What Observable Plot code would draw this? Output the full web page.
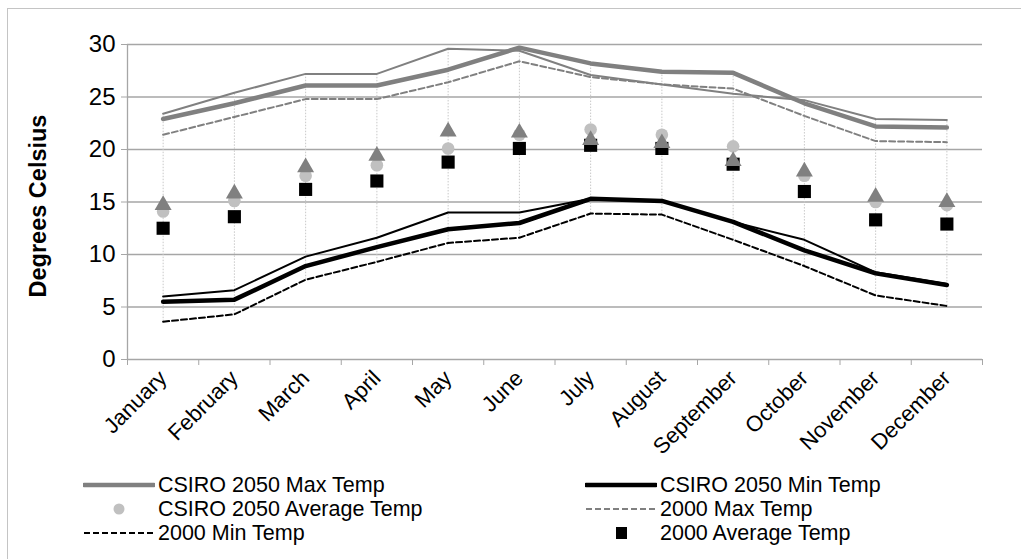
<!DOCTYPE html>
<html>
<head>
<meta charset="utf-8">
<script src="https://cdn.jsdelivr.net/npm/d3@7"></script>
<script src="https://cdn.jsdelivr.net/npm/@observablehq/plot@0.6"></script>
<style>
  body { margin: 0; background: #fff; font-family: "Liberation Sans", Arial, sans-serif; }
  #wrap { position: relative; width: 1021px; height: 559px; overflow: hidden; background: #fff; }
  #frame { position: absolute; left: 7px; top: 8px; width: 1200px; height: 700px;
           border-left: 1.5px solid #c4c4c4; border-top: 1.5px solid #c4c4c4; }
  #chart { position: absolute; left: 0; top: 0; }
  .item { position: absolute; height: 26px; display: flex; align-items: center;
          font-size: 21.5px; color: #000; white-space: nowrap; }
  .item svg { display: block; margin-right: 3px; }
</style>
</head>
<body>
<div id="wrap">
  <div id="frame"></div>
  <div id="chart"></div>
  <div id="legend"></div>
</div>
<script>
const months = ["January","February","March","April","May","June","July","August","September","October","November","December"];
const yTicks = [0, 5, 10, 15, 20, 25, 30];

// Legend series
const csiro2050Max = [22.9, 24.4, 26.1, 26.1, 27.6, 29.7, 28.2, 27.4, 27.3, 24.4, 22.2, 22.1];
const csiro2050Min = [5.5, 5.7, 8.9, 10.7, 12.4, 13.0, 15.3, 15.1, 13.1, 10.4, 8.2, 7.1];
const csiro2050Avg = [14.1, 15.1, 17.5, 18.5, 20.1, 21.4, 21.9, 21.4, 20.3, 17.5, 15.0, 14.7];
const max2000 = [21.4, 23.1, 24.8, 24.8, 26.4, 28.4, 26.9, 26.2, 25.8, 23.2, 20.8, 20.7];
const min2000 = [3.6, 4.3, 7.6, 9.3, 11.1, 11.6, 13.9, 13.8, 11.4, 8.9, 6.1, 5.1];
const avg2000 = [12.5, 13.6, 16.2, 17.0, 18.8, 20.1, 20.4, 20.1, 18.6, 16.0, 13.3, 12.9];
// Unlabelled series drawn in the chart
const otherMax = [23.4, 25.4, 27.2, 27.2, 29.6, 29.4, 27.1, 26.2, 25.3, 24.7, 22.9, 22.8];
const otherMin = [6.0, 6.6, 9.8, 11.6, 14.0, 14.0, 15.3, 15.1, 13.1, 11.4, 8.3, 7.2];
const otherAvg = [14.7, 15.8, 18.3, 19.4, 21.7, 21.6, 20.9, 20.6, 18.9, 17.9, 15.5, 15.0];

const rows = arr => arr.map((v, i) => ({i, v}));
const idx = months.map((m, i) => ({i, m}));
const bounds = d3.range(-0.5, 12, 1);
const lineSeries = [csiro2050Max, csiro2050Min, max2000, min2000, otherMax, otherMin];
const hiLo = months.map((m, i) => ({
  i,
  lo: d3.min(lineSeries, s => s[i]),
  hi: d3.max(lineSeries, s => s[i])
}));

const GRID = "#a6a6a6";
const font = "Liberation Sans, Arial, sans-serif";

const chart = Plot.plot({
  width: 1021,
  height: 470,
  marginLeft: 127,
  marginRight: 39,
  marginTop: 44,
  marginBottom: 111,
  style: { fontFamily: font, background: "transparent", color: "#000" },
  x: { type: "linear", domain: [-0.5, 11.5], axis: null },
  y: { domain: [0, 30], axis: null },
  marks: [
    Plot.gridY(yTicks, { stroke: GRID, strokeOpacity: 1, strokeWidth: 1.3 }),
    Plot.ruleX([-0.5], { stroke: GRID, strokeWidth: 1.3 }),
    Plot.axisY({ ticks: yTicks, label: null, tickSize: 6, tickPadding: 6, stroke: GRID, strokeOpacity: 1, fontSize: 24, fill: "#000" }),
    Plot.axisX({ ticks: bounds, label: null, tickSize: 6, tickFormat: () => "", stroke: GRID, strokeOpacity: 1 }),
    Plot.text(idx, { x: "i", text: "m", frameAnchor: "bottom", dy: 20, dx: 5, rotate: -45, textAnchor: "end", fontSize: 22, fill: "#000" }),
    Plot.text(["Degrees Celsius"], { frameAnchor: "left", textAnchor: "middle", dx: -89, dy: 4, rotate: -90, fontSize: 23.5, fontWeight: "bold", fill: "#000" }),
    // high-low drop lines
    Plot.ruleX(hiLo, { x: "i", y1: "lo", y2: "hi", stroke: "#c8c8c8", strokeWidth: 1, strokeDasharray: "1.5,1.5" }),
    // lines
    Plot.line(rows(max2000), { x: "i", y: "v", stroke: "#808080", strokeWidth: 2, strokeDasharray: "6,3" }),
    Plot.line(rows(min2000), { x: "i", y: "v", stroke: "#000", strokeWidth: 2, strokeDasharray: "6,3" }),
    Plot.line(rows(otherMax), { x: "i", y: "v", stroke: "#808080", strokeWidth: 2 }),
    Plot.line(rows(otherMin), { x: "i", y: "v", stroke: "#000", strokeWidth: 2 }),
    Plot.line(rows(csiro2050Max), { x: "i", y: "v", stroke: "#808080", strokeWidth: 4.5 }),
    Plot.line(rows(csiro2050Min), { x: "i", y: "v", stroke: "#000", strokeWidth: 4.5 }),
    // markers
    Plot.dot(rows(avg2000), { x: "i", y: "v", symbol: "square", r: 7.4, fill: "#000", stroke: "none" }),
    Plot.dot(rows(csiro2050Avg), { x: "i", y: "v", symbol: "circle", r: 6.3, fill: "#c0c0c0", stroke: "none" }),
    Plot.dot(rows(otherAvg), { x: "i", y: "v", symbol: "triangle", r: 6.3, fill: "#808080", stroke: "none" })
  ]
});
document.getElementById("chart").appendChild(chart);

// Legend (HTML, below the SVG plot area)
const legendItems = [
  { label: "CSIRO 2050 Max Temp", kind: "line", color: "#808080", width: 4.5, dash: null, left: 83, top: 472 },
  { label: "CSIRO 2050 Min Temp", kind: "line", color: "#000", width: 4.5, dash: null, left: 585, top: 472 },
  { label: "CSIRO 2050 Average Temp", kind: "circle", color: "#c0c0c0", left: 83, top: 496 },
  { label: "2000 Max Temp", kind: "line", color: "#808080", width: 2, dash: "6,3", left: 585, top: 496 },
  { label: "2000 Min Temp", kind: "line", color: "#000", width: 2, dash: "6,3", left: 83, top: 520 },
  { label: "2000 Average Temp", kind: "square", color: "#000", left: 585, top: 520 }
];
const legend = d3.select("#legend");
for (const it of legendItems) {
  const div = legend.append("div").attr("class", "item").style("left", it.left + "px").style("top", it.top + "px");
  const svg = div.append("svg").attr("width", 72).attr("height", 26);
  if (it.kind === "line") {
    svg.append("line").attr("x1", 1).attr("x2", 71).attr("y1", 13).attr("y2", 13)
      .attr("stroke", it.color).attr("stroke-width", it.width)
      .attr("stroke-linecap", it.dash ? "butt" : "round")
      .attr("stroke-dasharray", it.dash);
  } else if (it.kind === "circle") {
    svg.append("circle").attr("cx", 36).attr("cy", 13).attr("r", 5.5).attr("fill", it.color);
  } else {
    svg.append("rect").attr("x", 31).attr("y", 7).attr("width", 11).attr("height", 12).attr("fill", it.color);
  }
  div.append("span").text(it.label);
}
</script>
</body>
</html>
